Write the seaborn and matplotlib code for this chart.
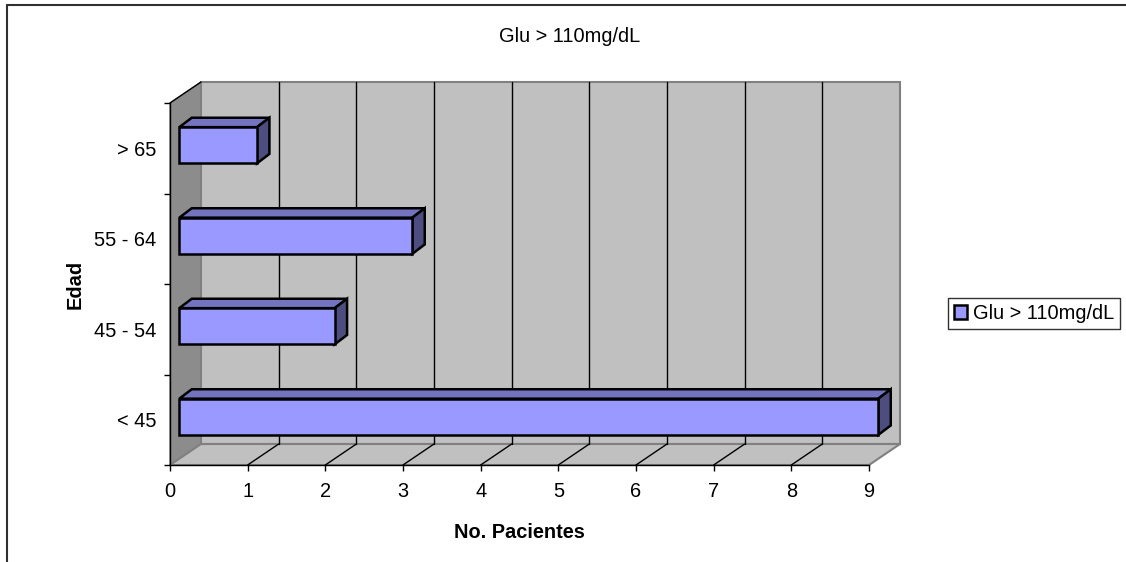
import matplotlib
matplotlib.use("Agg")
import matplotlib.pyplot as plt
import seaborn as sns
import pandas as pd
from matplotlib.patches import Polygon, Rectangle
from matplotlib.lines import Line2D

# ---- data ----
categories = ["> 65", "55 - 64", "45 - 54", "< 45"]
pacientes = [1, 3, 2, 9]
x_ticks = list(range(0, 10))
title = "Glu > 110mg/dL"
series_name = "Glu > 110mg/dL"
x_label = "No. Pacientes"
y_label = "Edad"

sns.set_style("white")
plt.rcParams["font.family"] = ["Liberation Sans", "DejaVu Sans"]
plt.rcParams["text.color"] = "black"
plt.rcParams["axes.labelcolor"] = "black"
plt.rcParams["xtick.color"] = "black"
plt.rcParams["ytick.color"] = "black"
FS = 14.4
EDGE_LW = 1.8

W, H = 1126, 562
fig = plt.figure(figsize=(W / 100, H / 100), dpi=100)
ax = fig.add_axes([170 / W, 97 / H, 699 / W, 362 / H])
ax.set_facecolor("none")

df = pd.DataFrame({"Edad": categories, "Pacientes": pacientes})

# depth offsets in data units
WDX, WDY = 0.399, 0.232      # wall depth
BX0, BY0 = 0.12, 0.033       # bar front face offset
BDX, BDY = 0.16, 0.104       # bar depth
XMAX = 9
Y0, Y1 = -0.5, 3.5

# walls
ax.add_patch(Polygon([(0, Y0), (0, Y1), (WDX, Y1 - WDY), (WDX, Y0 - WDY)],
                     closed=True, facecolor="#8c8c8c", edgecolor="#808080",
                     lw=1, clip_on=False, zorder=0))
ax.add_patch(Rectangle((WDX, Y0 - WDY), XMAX, Y1 - Y0, facecolor="#c0c0c0",
                       edgecolor="#808080", lw=1.5, clip_on=False, zorder=0))
ax.add_patch(Polygon([(0, Y1), (XMAX, Y1), (XMAX + WDX, Y1 - WDY), (WDX, Y1 - WDY)],
                     closed=True, facecolor="#c0c0c0", edgecolor="#808080",
                     lw=1.5, clip_on=False, zorder=0))
ax.plot([0, WDX], [Y0, Y0 - WDY], color="black", lw=1, clip_on=False, zorder=0.5)
for k in x_ticks[1:-1]:
    ax.plot([k + WDX, k + WDX], [Y1 - WDY, Y0 - WDY], color="black", lw=1,
            clip_on=False, zorder=0.5)
    ax.plot([k, k + WDX], [Y1, Y1 - WDY], color="black", lw=1,
            clip_on=False, zorder=0.5)

# bars (front faces)
sns.barplot(data=df, y="Edad", x="Pacientes", order=categories, orient="h",
            color="#9999ff", saturation=1, width=0.4, edgecolor="black",
            linewidth=EDGE_LW, ax=ax, label=series_name, zorder=3)

bars = list(ax.containers[0])
for p in bars:
    p.set_x(p.get_x() + BX0)
    p.set_y(p.get_y() - BY0)
    p.set_clip_on(False)
    x0, x1 = p.get_x(), p.get_x() + p.get_width()
    yt, yb = p.get_y(), p.get_y() + p.get_height()
    ax.add_patch(Polygon([(x0, yt), (x1, yt), (x1 + BDX, yt - BDY), (x0 + BDX, yt - BDY)],
                         closed=True, facecolor="#7373c0", edgecolor="black",
                         lw=EDGE_LW, clip_on=False, zorder=2.9))
    ax.add_patch(Polygon([(x1, yt), (x1, yb), (x1 + BDX, yb - BDY), (x1 + BDX, yt - BDY)],
                         closed=True, facecolor="#4d4d80", edgecolor="black",
                         lw=EDGE_LW, clip_on=False, zorder=2.9))

ax.set_xlim(0, XMAX)
ax.set_ylim(Y1, Y0)
ax.grid(False)

for s in ["top", "right"]:
    ax.spines[s].set_visible(False)
for s in ["left", "bottom"]:
    ax.spines[s].set_color("black")
    ax.spines[s].set_linewidth(1)
    ax.spines[s].set_zorder(1)

ax.set_xticks(x_ticks)
ax.set_xticklabels([str(v) for v in x_ticks], fontsize=FS)
ax.set_yticks(range(len(categories)))
ax.set_yticklabels(categories, fontsize=FS)
ax.set_yticks([Y0 + i for i in range(len(categories) + 1)], minor=True)
ax.tick_params(axis="x", which="major", length=4.5, width=1, direction="out",
               color="black", pad=8, bottom=True)
ax.tick_params(axis="y", which="major", length=0, pad=10, left=True)
ax.tick_params(axis="y", which="minor", length=4.5, width=1, direction="out",
               color="black", left=True)

ax.set_xlabel(x_label, fontsize=FS, fontweight="bold")
ax.set_ylabel(y_label, fontsize=FS, fontweight="bold")
ax.xaxis.label.set_va("center")
ax.yaxis.label.set_va("center")
ax.xaxis.set_label_coords(0.5, (465 - 533) / 362)
ax.yaxis.set_label_coords((75 - 170) / 699, 0.5)

fig.text(570 / W, 1 - 37 / H, title, fontsize=FS, ha="center", va="center")

leg = ax.legend(handles=[bars[0]], labels=[series_name], loc="center left",
                bbox_to_anchor=(948 / W, 1 - 313.5 / H), bbox_transform=fig.transFigure,
                fontsize=FS, frameon=True, fancybox=False, shadow=False,
                borderaxespad=0, borderpad=0.3, handlelength=0.65, handleheight=0.65,
                handletextpad=0.3)
leg.get_frame().set_edgecolor("black")
leg.get_frame().set_linewidth(1)

# outer chart border
fig.add_artist(Line2D([7.5 / W, 1.0], [1 - 4.5 / H, 1 - 4.5 / H],
                      transform=fig.transFigure, color="#303030", lw=1.5))
fig.add_artist(Line2D([7.5 / W, 7.5 / W], [0, 1 - 4.5 / H],
                      transform=fig.transFigure, color="#303030", lw=1.5))

fig.savefig("out.png", dpi=100)
